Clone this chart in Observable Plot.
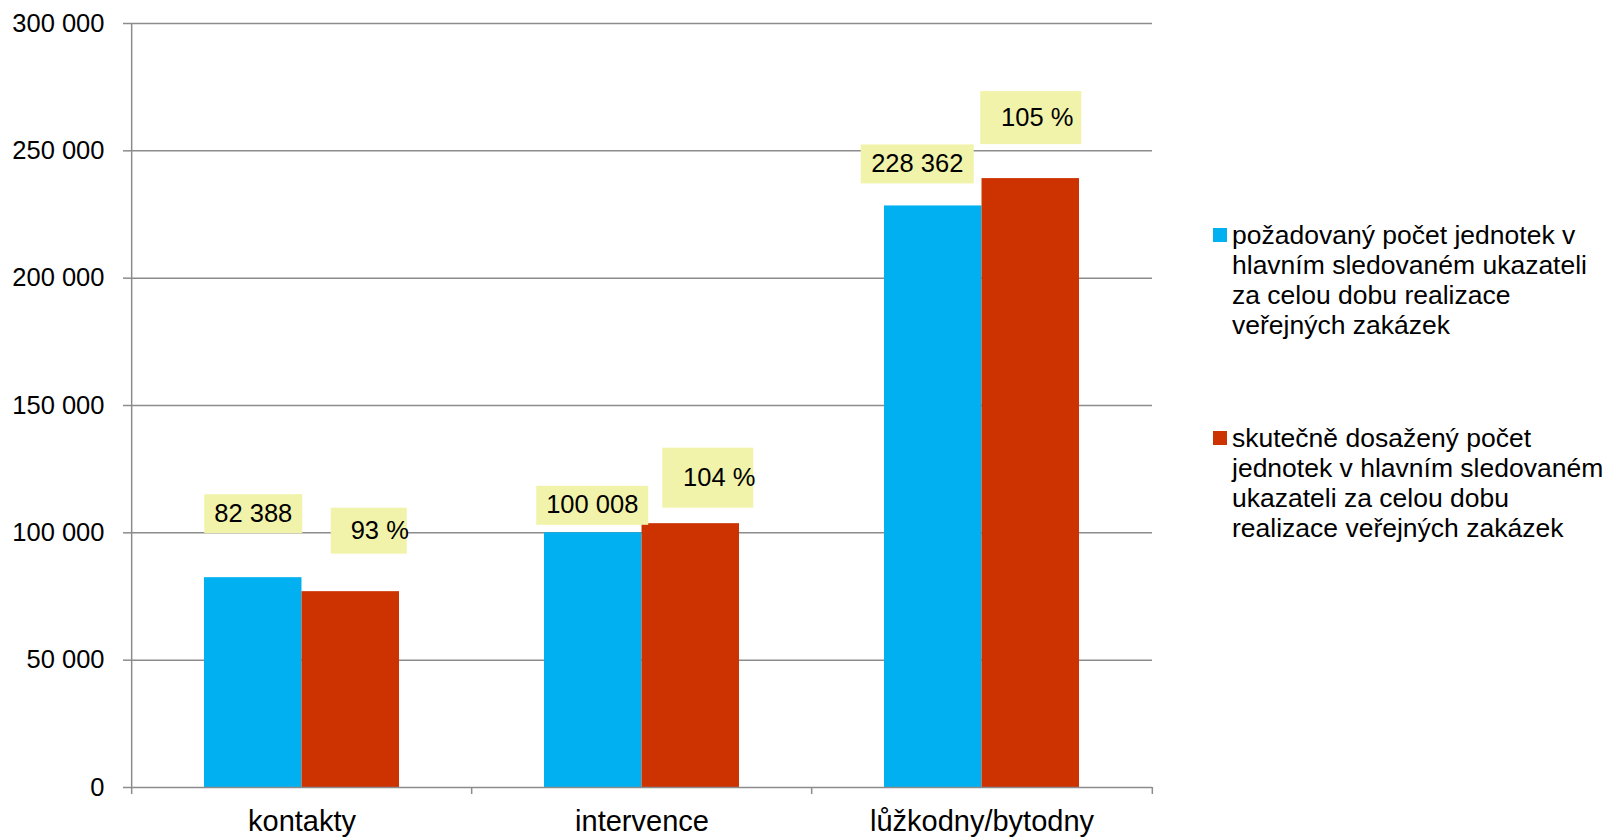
<!DOCTYPE html>
<html lang="cs">
<head>
<meta charset="utf-8">
<script src="https://cdn.jsdelivr.net/npm/d3@7"></script>
<script src="https://cdn.jsdelivr.net/npm/@observablehq/plot@0.6"></script>
<style>
  html, body { margin: 0; padding: 0; background: #fff; }
  #wrap { position: relative; width: 1608px; height: 837px; overflow: hidden; font-family: "Liberation Sans", Arial, sans-serif; }
  #chart { position: absolute; left: 0; top: 0; }
  .item { position: absolute; left: 1213px; }
  .sw { position: absolute; left: 0; width: 13.5px; height: 13.5px; }
  .txt { position: absolute; left: 19px; white-space: nowrap; font-size: 26.5px; line-height: 30px; color: #000; }
</style>
</head>
<body>
<div id="wrap">
  <div id="chart"></div>
  <div id="legend"></div>
</div>
<script>
// ---- data ----
const categories = ["kontakty", "intervence", "lůžkodny/bytodny"];
const requiredUnits = [82388, 100008, 228362];
const achievedUnits = [76900, 103600, 239100];
const achievedPct = [93, 104, 105];
const yTicks = [0, 50000, 100000, 150000, 200000, 250000, 300000];
const seriesNames = [
  "požadovaný počet jednotek v hlavním sledovaném ukazateli za celou dobu realizace veřejných zakázek",
  "skutečně dosažený počet jednotek v hlavním sledovaném ukazateli za celou dobu realizace veřejných zakázek"
];
const seriesColors = ["#00B0F0", "#CC3300"];

// ---- layout / style ----
const W = 1608, H = 837, ML = 130, MR = 456, MT = 23, MB = 50;
const PI = 0.4275, PO = PI / 2;
const step = (W - ML - MR) / (categories.length - PI + 2 * PO);
const bw = step * (1 - PI);
const gridColor = "#8c8c8c";
const boxFill = "#F2F3AA";
// legend line wrapping (word counts per line)
const legendWraps = [[4, 3, 4, 2], [3, 4, 4, 3]];
const legendTops = [220, 423];
// label box nudges, relative to bar centre/top (order: required x3, achieved x3)
const labelBoxes = [
  {bdx: 0, bdy: -64, w: 98, h: 39, tdx: 0},
  {bdx: -1, bdy: -27.5, w: 112, h: 39, tdx: 0},
  {bdx: -16, bdy: -42, w: 113, h: 39, tdx: 0},
  {bdx: 18, bdy: -61, w: 76, h: 46, tdx: 11},
  {bdx: 17, bdy: -46, w: 91, h: 60, tdx: 11.5},
  {bdx: 0, bdy: -61, w: 101, h: 53, tdx: 6.5}
];

const fmt = v => d3.format(",")(v).replace(/,/g, " ");

const reqRows = categories.map((c, i) => ({category: c, series: 0, value: requiredUnits[i], label: fmt(requiredUnits[i])}));
const achRows = categories.map((c, i) => ({category: c, series: 1, value: achievedUnits[i], label: achievedPct[i] + " %"}));
const labelRows = [...reqRows, ...achRows];

const plot = Plot.plot({
  width: W, height: H,
  marginLeft: ML, marginRight: MR, marginTop: MT, marginBottom: MB,
  style: {fontFamily: "'Liberation Sans', Arial, sans-serif", background: "white", color: "#000", overflow: "visible"},
  x: {type: "band", domain: categories, paddingInner: PI, paddingOuter: PO, axis: null, label: null},
  y: {domain: [0, 300000], axis: null, label: null},
  marks: [
    Plot.ruleY(yTicks.filter(d => d > 0), {stroke: gridColor, strokeWidth: 1.5}),
    Plot.barY(reqRows, {x: "category", y: "value", fill: seriesColors[0], insetRight: bw / 2}),
    Plot.barY(achRows, {x: "category", y: "value", fill: seriesColors[1], insetLeft: bw / 2}),
    Plot.ruleY([0], {stroke: gridColor, strokeWidth: 1.5}),
    Plot.ruleX([categories[0]], {dx: -step / 2, stroke: gridColor, strokeWidth: 1.5}),
    Plot.ruleX(categories, {dx: -step / 2, insetTop: H - MT - MB, insetBottom: -7, stroke: gridColor, strokeWidth: 1.5}),
    Plot.ruleX([categories[categories.length - 1]], {dx: step / 2, insetTop: H - MT - MB, insetBottom: -7, stroke: gridColor, strokeWidth: 1.5}),
    Plot.axisY(yTicks, {label: null, tickSize: 7, tickPadding: 19, tickFormat: fmt, fontSize: 25.5, stroke: gridColor, strokeWidth: 1.5, fill: "#000"}),
    Plot.axisX({label: null, tickSize: 0, tickPadding: 23, fontSize: 29, fill: "#000"}),
    Plot.text(labelRows, {
      x: "category", y: "value", text: "label", fontSize: 25.5, fill: "#000",
      render(index, scales, values, dims, context, next) {
        const g = next(index, scales, values, dims, context);
        const bwid = scales.x.bandwidth();
        const texts = g.querySelectorAll("text");
        index.forEach((i, k) => {
          const t = texts[k];
          const s = labelBoxes[i];
          const cx = values.x[i] + (labelRows[i].series ? bwid / 4 : -bwid / 4) + s.bdx;
          const cy = values.y[i] + s.bdy;
          t.setAttribute("transform", `translate(${cx + s.tdx},${cy})`);
          const r = document.createElementNS("http://www.w3.org/2000/svg", "rect");
          r.setAttribute("x", cx - s.w / 2);
          r.setAttribute("y", cy - s.h / 2);
          r.setAttribute("width", s.w);
          r.setAttribute("height", s.h);
          r.setAttribute("fill", boxFill);
          g.insertBefore(r, t);
        });
        return g;
      }
    })
  ]
});
document.getElementById("chart").appendChild(plot);

// legend
const legend = document.getElementById("legend");
seriesNames.forEach((name, si) => {
  const words = name.split(" ");
  const lines = [];
  let p = 0;
  legendWraps[si].forEach(n => { lines.push(words.slice(p, p + n).join(" ")); p += n; });
  const item = document.createElement("div");
  item.className = "item";
  item.style.top = legendTops[si] + "px";
  const sw = document.createElement("span");
  sw.className = "sw";
  sw.style.background = seriesColors[si];
  sw.style.top = "8px";
  const txt = document.createElement("div");
  txt.className = "txt";
  txt.innerHTML = lines.map(l => l.replace(/&/g, "&amp;").replace(/</g, "&lt;")).join("<br>");
  item.appendChild(sw);
  item.appendChild(txt);
  legend.appendChild(item);
});
</script>
</body>
</html>
